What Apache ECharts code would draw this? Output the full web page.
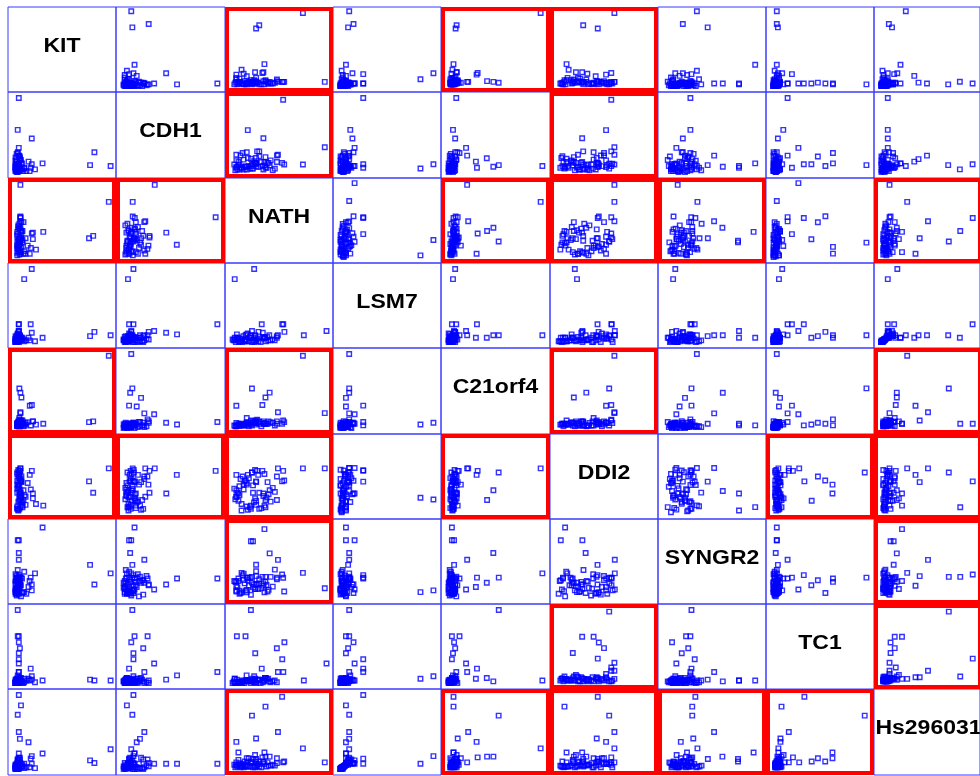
<!DOCTYPE html>
<html>
<head>
<meta charset="utf-8">
<script src="https://cdn.jsdelivr.net/npm/echarts@6/dist/echarts.min.js"></script>
<style>
  html, body { margin: 0; padding: 0; background: #ffffff; }
  #chart { width: 980px; height: 776px; }
</style>
</head>
<body>
<div id="chart"></div>
<script>
// Gene names, in matrix order (rows top→bottom, columns left→right)
const genes = ['KIT', 'CDH1', 'NATH', 'LSM7', 'C21orf4', 'DDI2', 'SYNGR2', 'TC1', 'Hs296031'];

// Relative expression per sample (0–100 scale), one array per gene, same sample order
const KIT = [95,80,76,10,9,22,10,22,15,9,10,11,21,19,10,32,9,10,10,12,11,10,9,10,11,10,
  7,8,9,7,10,8,12,9,7,11,8,13,9,7,10,15,8,9,7,17,8,10,7,12,9,8,11,7,14,8,9,25,7,10,8,13,7,9,20,8];
const CDH1 = [14,30,15,93,56,46,35,16,11,15,13,23,12,19,26,17,12,14,16,10,22,17,29,14,25,16,
  8,10,7,12,9,14,18,11,20,8,22,10,16,9,25,12,7,13,17,8,28,10,14,21,9,15,11,24,8,19,12,10,13,26,9,17,11,30,8,16];
const NATH = [73,31,28,54,20,35,94,27,9,24,41,37,34,9,49,36,23,25,53,37,28,11,19,55,48,28,
  10,14,8,18,22,12,26,30,16,35,20,9,40,24,13,28,44,11,33,19,15,38,7,23,46,27,17,31,12,42,21,14,36,9,25,48,19,29,16,39];
const LSM7 = [15,19,14,28,16,18,20,93,81,15,15,12,28,12,15,12,12,20,28,12,15,12,15,19,14,12,
  7,8,9,10,8,12,9,11,7,13,8,10,9,14,7,8,10,16,7,9,11,8,10,12,9,7,14,8,10,9,17,8,11,9,7,12,8,10,9,13];
const C21orf4 = [93,13,12,14,11,13,23,13,11,53,48,42,33,32,24,10,10,12,10,10,14,10,17,12,13,11,
  8,9,7,10,9,8,11,12,8,10,9,7,13,8,10,9,11,8,7,12,9,10,8,14,8,11,9,10,8,12,7,9,11,8,13,10,9,15,8,10];
const DDI2 = [60,30,44,57,52,29,60,23,25,55,33,21,57,52,60,14,10,30,44,12,43,29,40,45,50,20,
  30,8,22,45,12,38,18,52,40,26,9,33,28,55,47,15,36,20,11,42,50,24,35,14,31,58,44,10,27,19,48,16,53,25,39,21,13,57,34,43];
const SYNGR2 = [36,23,46,30,30,23,17,16,14,31,60,25,31,20,52,90,75,75,34,31,32,26,30,13,28,22,
  18,12,25,14,30,10,22,16,35,20,27,13,15,24,11,38,19,29,17,12,33,21,26,9,40,16,23,28,14,31,20,36,12,25,18,30,15,22,27,13];
const TC1 = [10,10,11,20,16,11,30,15,12,93,9,13,24,12,20,10,10,10,35,13,12,62,62,55,48,42,
  7,8,9,7,10,8,9,11,7,8,10,8,12,7,9,8,9,11,7,10,8,13,7,9,10,8,9,11,7,8,10,8,9,7,12,8,9,7,10,11];
const Hs296031 = [30,14,17,13,13,13,13,22,13,70,20,20,19,38,50,25,14,17,93,81,42,25,18,14,18,14,
  8,9,7,10,8,12,9,11,7,14,8,10,9,12,7,8,10,16,7,9,11,8,10,13,9,7,14,8,10,9,18,8,11,9,7,12,8,10,9,13];

// Gene pairs whose panels are framed in red (row/column symmetric)
const highlightedPairs = [[0,2],[0,4],[0,5],[1,2],[1,5],[2,4],[2,5],[2,6],[2,8],[4,5],[4,8],[5,7],[5,8],[6,8],[7,8]];

const values = [KIT, CDH1, NATH, LSM7, C21orf4, DDI2, SYNGR2, TC1, Hs296031];

const chart = echarts.init(document.getElementById('chart'), null, { renderer: 'canvas' });

const n = genes.length;
const originX = 8, originY = 7, cellW = 108.3, cellH = 85.3;
const isHighlighted = (i, j) => highlightedPairs.some(([a, b]) => (a === i && b === j) || (a === j && b === i));

const grid = [], xAxis = [], yAxis = [], series = [], graphic = [];

for (let i = 0; i < n; i++) {
  for (let j = 0; j < n; j++) {
    const idx = i * n + j;
    const hi = isHighlighted(i, j);
    const left = Math.round(originX + j * cellW);
    const top = Math.round(originY + i * cellH);
    const w = Math.round(originX + (j + 1) * cellW) - left;
    const h = Math.round(originY + (i + 1) * cellH) - top;
    const inset = hi ? 2 : 0;
    grid.push({
      left: left + inset, top: top + inset, width: w - 2 * inset, height: h - 2 * inset,
      show: true, backgroundColor: 'transparent',
      borderColor: hi ? '#ff0000' : '#3b3bff', borderWidth: hi ? 4 : 1,
      z: hi ? 6 : 1
    });
    xAxis.push({ gridIndex: idx, type: 'value', min: 0, max: 100, show: false });
    yAxis.push({ gridIndex: idx, type: 'value', min: 0, max: 100, show: false });
    if (i !== j) {
      series.push({
        type: 'scatter', xAxisIndex: idx, yAxisIndex: idx,
        data: values[j].map((v, k) => [v, values[i][k]]),
        symbol: 'rect', symbolSize: 4.5,
        itemStyle: { color: 'rgba(0,0,0,0)', borderColor: '#0000ff', borderWidth: 1.4 },
        silent: true, z: 3
      });
    } else {
      graphic.push({
        type: 'text',
        x: left + w / 2, y: top + 39,
        scaleX: 1.15,
        style: {
          text: genes[i],
          font: 'bold 20px "Liberation Sans", Arial, sans-serif',
          fill: '#000000',
          textAlign: 'center',
          textVerticalAlign: 'middle'
        }
      });
    }
  }
}

chart.setOption({
  animation: false,
  backgroundColor: '#ffffff',
  grid, xAxis, yAxis, series, graphic
});
</script>
</body>
</html>
